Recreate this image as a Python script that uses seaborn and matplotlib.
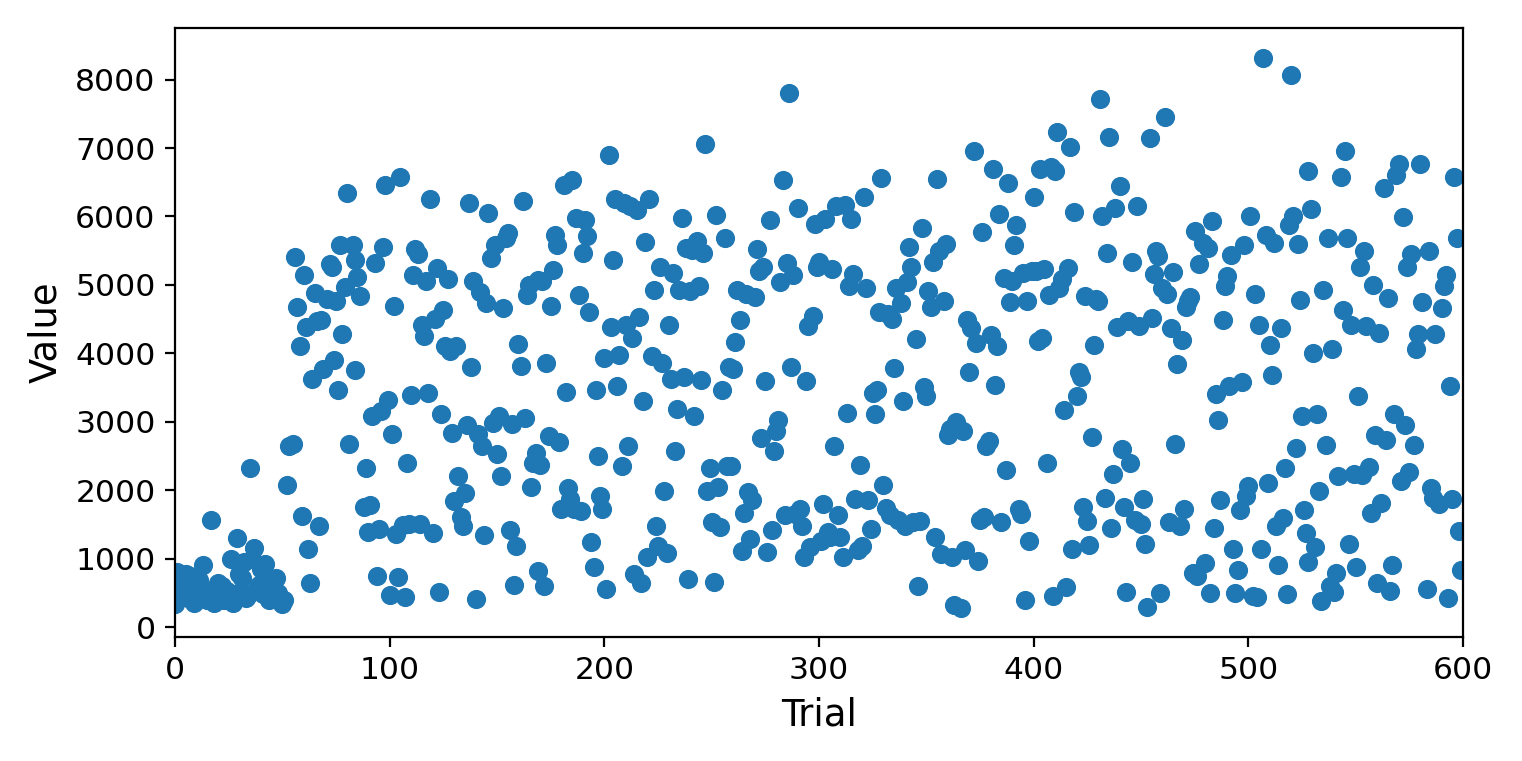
import matplotlib
matplotlib.use("Agg")
import matplotlib.pyplot as plt
import seaborn as sns
import pandas as pd

trial = [0,1,1,2,3,4,5,6,7,8,9,10,11,12,13,14,15,16,17,18,19,20,21,22,23,24,25,26,27,28,29,30,31,32,33,34,35,36,37,38,39,40,41,42,43,44,45,46,47,48,49,50,51,52,53,55,
56,57,58,59,60,61,62,63,64,65,66,67,68,69,71,72,73,74,75,76,77,78,79,80,81,83,84,84,85,86,88,89,90,91,92,93,94,95,96,97,98,
99,100,101,102,103,104,105,106,107,108,109,110,111,112,113,114,115,116,117,118,119,120,121,122,123,124,125,126,127,128,129,130,131,132,133,134,135,136,137,138,139,140,141,142,143,144,145,146,147,148,
149,150,151,152,153,154,155,156,157,158,159,160,161,162,163,164,165,166,167,168,169,169,170,171,172,173,174,175,176,177,178,179,180,181,182,183,184,185,186,187,188,189,190,191,192,193,194,195,196,197,
198,199,200,201,202,203,204,205,206,207,208,209,210,211,212,213,214,215,216,217,218,219,220,221,222,223,224,225,226,227,228,229,230,231,232,233,234,235,236,237,238,239,240,241,242,243,244,245,246,247,
248,249,250,251,252,253,254,255,256,257,258,259,260,261,262,263,264,265,266,267,268,269,270,271,272,273,274,275,276,277,278,279,280,281,282,283,284,285,286,287,288,289,290,291,292,293,294,295,296,297,
298,299,300,301,302,303,304,305,306,307,308,309,310,311,312,313,314,315,316,317,318,319,320,321,322,323,324,325,326,327,328,329,330,331,332,333,334,335,336,337,338,339,340,341,342,343,344,345,346,347,
348,349,350,351,352,353,354,355,356,357,358,359,360,361,362,363,364,365,366,367,368,369,370,371,372,373,374,375,376,377,378,379,380,381,382,383,384,385,386,387,388,389,390,391,392,393,394,395,396,397,
398,399,400,401,402,403,404,405,406,407,408,409,410,411,412,413,414,415,416,417,418,419,420,421,422,423,424,425,426,427,428,429,430,431,432,433,434,435,436,437,438,439,440,441,442,443,444,445,446,447,
448,449,450,451,452,453,454,455,456,457,458,459,460,461,462,463,464,465,466,467,468,469,470,471,472,473,474,475,476,477,479,480,481,482,483,484,485,486,487,488,489,490,491,492,493,494,495,496,497,498,
499,500,501,502,503,504,505,506,507,508,509,510,511,512,513,514,515,516,517,518,519,520,521,522,523,524,525,526,527,528,528,529,530,531,532,533,534,535,536,537,538,539,540,541,542,543,544,545,546,547,
548,549,550,551,552,553,554,555,556,557,558,559,560,561,562,563,564,565,566,567,568,569,570,571,572,573,574,575,576,577,578,579,580,581,583,584,585,586,587,589,590,591,592,593,594,595,596,597,598,599]

value = [330,800,600,450,700,550,780,420,750,480,350,620,680,430,910,520,400,470,1560,350,540,640,480,600,400,520,450,1000,350,480,1300,780,720,950,420,470,2320,1000,1150,560,620,850,480,920,550,390,680,420,720,500,420,340,400,2080,2650,2670,
5410,4670,4100,1620,5140,4390,1140,640,3630,4880,4470,1470,4490,3770,4790,5300,5260,3900,4770,3460,5590,4280,4970,6350,2680,5580,3760,5360,5120,4840,1760,2330,1390,1790,3080,5320,740,1430,3160,5550,6460,
3320,470,2820,4690,1360,730,6570,1490,440,2390,1510,3390,5140,5530,5450,1500,4410,4260,5050,3420,6260,1370,4500,5240,510,3110,4630,4110,5080,4030,2840,1840,4110,2210,1610,1480,1960,2950,6200,3800,5060,410,2820,4900,2650,1340,4740,6050,5390,2980,
5580,2530,3090,2200,4660,5680,5760,1420,2970,620,1190,4130,3820,6230,3050,4850,5000,2050,2400,2550,5070,820,2370,5060,600,3860,2790,4690,5220,5730,5590,2700,1720,6460,3430,2030,1870,6530,1730,5980,4850,1690,5470,5950,5720,4600,1240,870,3460,2500,
1910,1730,3930,550,6900,4390,5370,6260,3520,3970,2350,6200,4410,2640,6150,4230,770,6100,4530,640,3310,5630,1020,6250,3960,4920,1470,1190,5260,3860,1990,1080,4420,3630,5180,2570,3180,4920,5980,3650,5540,700,4910,5510,3090,5640,4980,3610,5470,7060,
1990,2320,1540,660,6020,2040,1460,3460,5690,2360,3800,2360,3770,4170,4920,4490,1110,1670,4870,1970,1280,1850,4830,5520,5200,2760,5260,3600,1090,5950,1420,2570,2860,3020,5040,6530,1630,5320,7810,3800,5140,1650,6120,1730,1470,1020,3600,4400,1170,4550,
5890,5260,5330,1250,1800,5960,1390,1310,5230,2650,6150,1640,1310,1020,6170,3130,4980,5960,5160,1870,1130,2370,1190,6290,4960,1860,1430,3420,3110,3470,4610,6560,2070,1740,4570,1630,4500,3780,4950,1560,4740,3310,1470,5040,5560,5260,1540,4210,600,1550,
5830,3510,3380,4910,4680,5340,1310,6550,5490,1060,4770,5600,2800,2890,1020,320,2990,2890,280,2860,1130,4480,3720,4370,6950,4150,970,1570,5780,1610,2640,2720,4270,6700,3530,4110,6040,1530,5100,2290,6490,4750,5060,5580,5870,1730,1650,5180,390,4760,
1260,5200,6290,5200,4180,6700,4230,5230,2390,4850,6720,450,6660,7230,4960,5090,3170,580,5240,7020,1140,6060,3380,3720,3660,1750,4840,1550,1200,2780,4120,4800,4770,7720,6000,1880,5470,7160,1450,2230,6130,4380,6450,2600,1760,510,4470,2390,5330,1570,
6160,4400,1510,1870,1220,290,7150,4520,5160,5490,5420,490,4960,7460,4870,1530,4370,5190,2670,3850,1480,4190,1730,4670,4760,4830,790,5790,750,5300,5610,930,5540,490,5940,1440,3400,3020,1860,4490,4990,5130,3520,5440,1140,490,840,1710,3580,5590,
1910,2060,6010,450,4870,440,4420,1140,8320,5730,2100,4120,3690,5610,1480,900,4370,1590,2330,480,5870,8070,6010,2620,5600,4780,3090,1710,1380,950,6670,6110,4010,1170,3120,1990,380,4930,2660,5690,600,4070,510,790,2200,6580,4640,6960,5690,1220,
4410,2230,870,3380,5260,2220,5500,4400,2340,1670,5000,2800,640,4300,1810,6420,2730,4810,520,900,3120,6600,6760,2130,5990,2950,5260,2270,5450,2660,4070,4280,6760,4750,550,5490,2030,1880,4280,1800,4660,4980,5150,420,3520,1870,6570,5680,1410,830]

n = min(len(trial), len(value))
df = pd.DataFrame({"Trial": trial[:n], "Value": value[:n]})

sns.set_theme(style="ticks", rc={"axes.edgecolor": "black", "xtick.color": "black", "ytick.color": "black",
                                 "axes.labelcolor": "black", "text.color": "black", "axes.linewidth": 0.8,
                                 "xtick.major.width": 0.8, "ytick.major.width": 0.8,
                                 "xtick.major.size": 3.5, "ytick.major.size": 3.5,
                                 "xtick.labelsize": 11.3, "ytick.labelsize": 11.3, "axes.labelsize": 13.3})
plt.rcParams["font.family"] = ["DejaVu Sans"]

fig = plt.figure(figsize=(7.61, 3.805), dpi=200)
W, H = 1522, 761
ax = fig.add_axes([175 / W, 1 - 637 / H, (1463 - 175) / W, (637 - 28) / H])
sns.scatterplot(data=df, x="Trial", y="Value", ax=ax, s=36, color="#1f77b4", edgecolor="#1f77b4", linewidth=0.9)
ax.set_xlim(0, 600)
ax.set_ylim(-146, 8755)
ax.set_xticks([0, 100, 200, 300, 400, 500, 600])
ax.set_yticks([0, 1000, 2000, 3000, 4000, 5000, 6000, 7000, 8000])
fig.savefig("out.png", dpi=200)
